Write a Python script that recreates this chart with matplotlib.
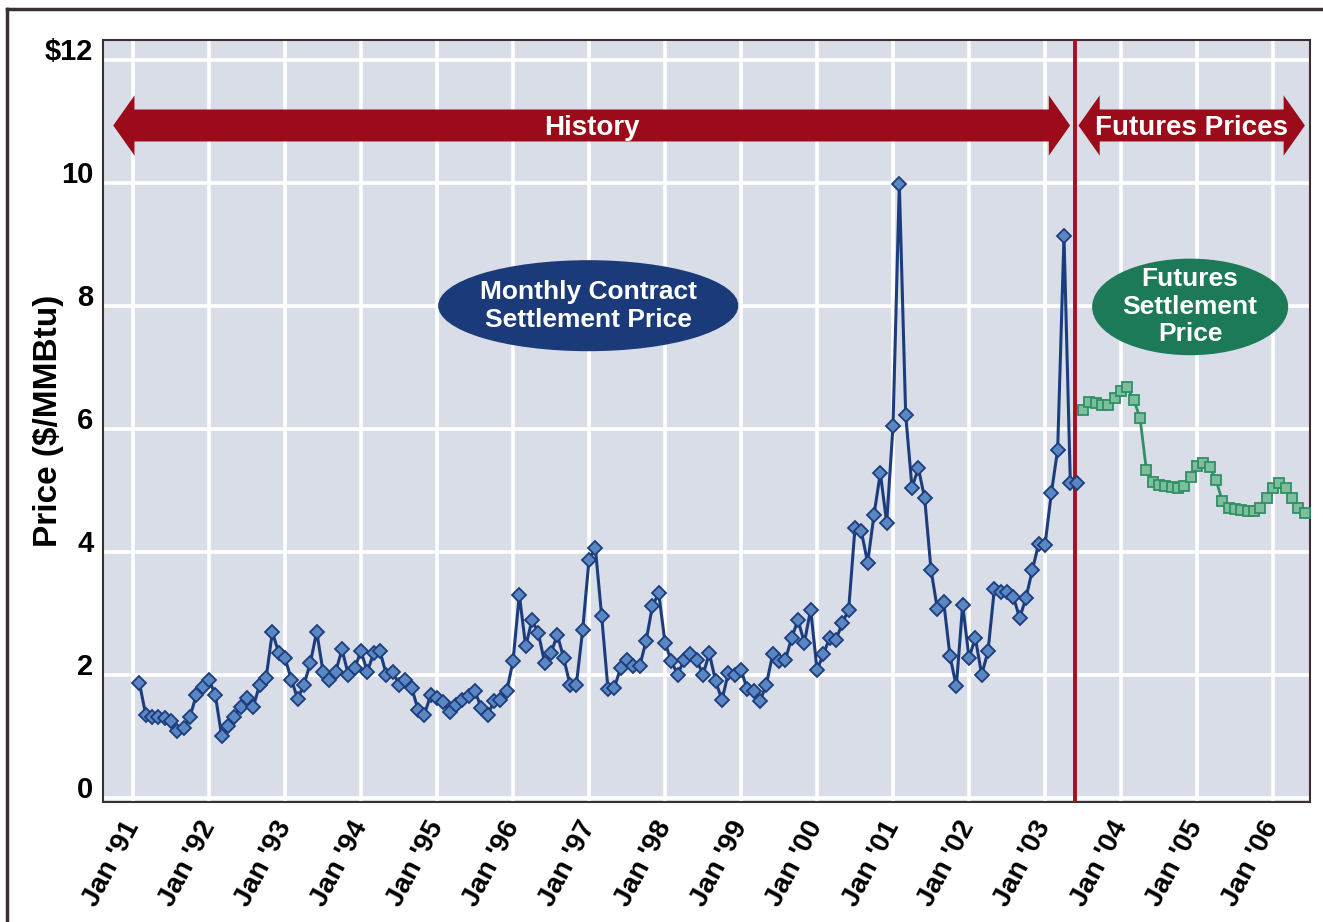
import numpy as np
import matplotlib.pyplot as plt
from matplotlib.patches import Ellipse, Polygon
from matplotlib.lines import Line2D

plt.rcParams['font.family'] = ['Liberation Sans', 'DejaVu Sans']
plt.rcParams['font.weight'] = 'bold'

# NYMEX monthly contract settlement price, Jan 1991 - May 2003 ($/MMBtu)
hist_prices = [
    1.87, 1.35, 1.32, 1.31, 1.30, 1.24, 1.09, 1.14, 1.32, 1.67, 1.80, 1.92,  # 1991
    1.67, 1.00, 1.16, 1.32, 1.48, 1.62, 1.48, 1.84, 1.94, 2.69, 2.36, 2.27,  # 1992
    1.92, 1.61, 1.84, 2.19, 2.70, 2.05, 1.92, 2.05, 2.41, 2.00, 2.11, 2.38,  # 1993
    2.05, 2.35, 2.38, 2.00, 2.05, 1.84, 1.92, 1.79, 1.43, 1.35, 1.67, 1.62,  # 1994
    1.55, 1.39, 1.51, 1.59, 1.65, 1.73, 1.46, 1.35, 1.57, 1.59, 1.73, 2.22,  # 1995
    3.30, 2.46, 2.89, 2.68, 2.19, 2.35, 2.65, 2.27, 1.84, 1.84, 2.73, 3.87,  # 1996
    4.06, 2.95, 1.76, 1.79, 2.11, 2.24, 2.14, 2.14, 2.54, 3.11, 3.33, 2.52,  # 1997
    2.22, 2.00, 2.24, 2.33, 2.24, 2.00, 2.35, 1.89, 1.59, 2.03, 2.00, 2.08,  # 1998
    1.76, 1.73, 1.57, 1.84, 2.33, 2.22, 2.24, 2.60, 2.89, 2.52, 3.06, 2.08,  # 1999
    2.33, 2.60, 2.57, 2.84, 3.06, 4.39, 4.33, 3.82, 4.60, 5.28, 4.47, 6.04,  # 2000
    9.98, 6.23, 5.04, 5.36, 4.87, 3.71, 3.07, 3.19, 2.30, 1.81, 3.14, 2.27,  # 2001
    2.60, 2.00, 2.38, 3.39, 3.35, 3.35, 3.27, 2.92, 3.25, 3.70, 4.13, 4.11,  # 2002
    4.95, 5.66, 9.13, 5.12, 5.12,                                            # 2003
]

# futures settlement prices, Jun 2003 - May 2006
futures_prices = [
    6.31, 6.44, 6.42, 6.39, 6.39, 6.50, 6.61, 6.67, 6.47, 6.18, 5.33, 5.14,
    5.09, 5.06, 5.05, 5.04, 5.06, 5.22, 5.39, 5.45, 5.37, 5.17, 4.82, 4.71,
    4.69, 4.68, 4.66, 4.66, 4.71, 4.88, 5.04, 5.12, 5.04, 4.88, 4.71, 4.63,
]

years = list(range(1991, 2007))
year_labels = ["Jan '%02d" % (y % 100) for y in years]
price_ticks = [0, 2, 4, 6, 8, 10, 12]
price_labels = ['0', '2', '4', '6', '8', '10', '$12']
divider = 2003.39

# month-end positions in decimal years
hist_t = 1991 + (np.arange(len(hist_prices)) + 1) / 12
fut_t = 2003 + 5 / 12 + (np.arange(len(futures_prices)) + 1) / 12

fig = plt.figure(figsize=(13.23, 9.22), dpi=100)
ax = fig.add_axes([103 / 1323, 1 - 802 / 922, 1207 / 1323, 762 / 922])
ax.set_facecolor('#d9dde7')

ax.set_xlim(1990.605, 2006.487)
ax.set_ylim(-0.07, 12.32)

ax.set_xticks(years)
ax.set_xticklabels(year_labels, rotation=62, ha='right', va='center',
                   rotation_mode='anchor', fontsize=20, fontweight='bold')
ax.set_yticks(price_ticks)
ax.set_yticklabels(price_labels, fontsize=21, fontweight='bold', va='baseline')
ax.tick_params(axis='both', length=0)
ax.tick_params(axis='x', pad=15)
ax.tick_params(axis='y', pad=7)
ax.grid(True, color='white', linewidth=2.6, zorder=0)
ax.set_axisbelow(True)
for s in ax.spines.values():
    s.set_color('#3b2f2f')
    s.set_linewidth(1.5)

ax.set_ylabel('Price ($/MMBtu)', fontsize=24, fontweight='bold')
ax.yaxis.set_label_coords(-0.032, 0.5)

ax.axvline(divider, color='#a80f1e', linewidth=2.8, zorder=3)

ax.plot(hist_t, hist_prices, color='#1c3d7d', linewidth=2.2, marker='D',
        markersize=7, markerfacecolor='#5a86c2', markeredgecolor='#1c3d7d',
        markeredgewidth=1.3, zorder=4)
ax.plot(fut_t, futures_prices, color='#2f8f65', linewidth=2.0, marker='s',
        markersize=7, markerfacecolor='#7dbf9d', markeredgecolor='#2f8f65',
        markeredgewidth=1.3, zorder=4)


def double_arrow(x0, x1, yc, label):
    shaft, head, hl = 0.52, 0.98, 0.28
    pts = [(x0, yc), (x0 + hl, yc + head / 2), (x0 + hl, yc + shaft / 2),
           (x1 - hl, yc + shaft / 2), (x1 - hl, yc + head / 2), (x1, yc),
           (x1 - hl, yc - head / 2), (x1 - hl, yc - shaft / 2),
           (x0 + hl, yc - shaft / 2), (x0 + hl, yc - head / 2)]
    ax.add_patch(Polygon(pts, closed=True, facecolor='#9b0b1a',
                         edgecolor='none', zorder=5))
    ax.text((x0 + x1) / 2, yc - 0.04, label, color='white', fontsize=20,
            fontweight='bold', ha='center', va='center', zorder=6)


double_arrow(1990.74, 2003.33, 10.93, 'History')
double_arrow(2003.44, 2006.42, 10.93, 'Futures Prices')

ax.add_patch(Ellipse((1996.99, 8.0), 3.95, 1.48, facecolor='#1b3a7a',
                     edgecolor='none', zorder=5))
ax.text(1996.99, 8.0, 'Monthly Contract\nSettlement Price', color='white',
        fontsize=19, fontweight='bold', ha='center', va='center',
        linespacing=1.2, zorder=6)
ax.add_patch(Ellipse((2004.91, 7.98), 2.58, 1.57, facecolor='#1d7a58',
                     edgecolor='none', zorder=5))
ax.text(2004.91, 7.98, 'Futures\nSettlement\nPrice', color='white',
        fontsize=19, fontweight='bold', ha='center', va='center',
        linespacing=1.18, zorder=6)

# outer frame (left and top edges)
fig.add_artist(Line2D([7 / 1323, 7 / 1323], [0, 1 - 9 / 922], color='#3b2f2f', linewidth=2.5))
fig.add_artist(Line2D([7 / 1323, 1], [1 - 9 / 922, 1 - 9 / 922], color='#3b2f2f', linewidth=2.5))

fig.savefig('out.png', dpi=100)
